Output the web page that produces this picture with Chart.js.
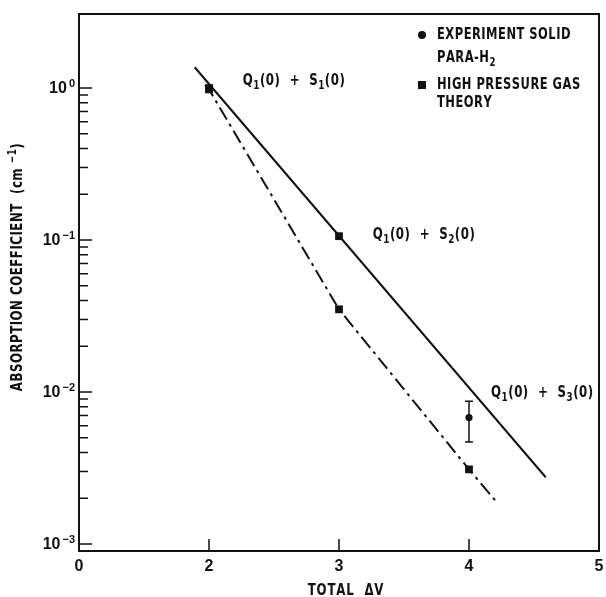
<!DOCTYPE html>
<html>
<head>
<meta charset="utf-8">
<script src="https://cdn.jsdelivr.net/npm/chart.js@4.4.0/dist/chart.umd.min.js"></script>
<style>
  html, body { margin: 0; padding: 0; background: #fff; }
</style>
</head>
<body>
<canvas id="chart" width="606" height="597"></canvas>
<script>
// The original x axis is broken: position 1 carries the label "0"
const xTickValues = [1, 2, 3, 4, 5];
const xTickLabels = ['0', '2', '3', '4', '5'];
const xInnerTicks = [2, 3, 4];
const yDecades = [1, 0.1, 0.01, 0.001];
const yExponents = ['0', '\u22121', '\u22122', '\u22123'];

// Experiment, solid para-H2
const expX = [2, 3, 4];
const expY = [1.0, 0.106, 0.0068];
const expStyle = ['rect', 'rect', 'circle'];
const expErrLow = [null, null, 0.0047];
const expErrHigh = [null, null, 0.0087];

// High pressure gas theory
const theoryX = [2, 3, 4];
const theoryY = [0.98, 0.035, 0.0031];

// Drawn lines
const solidX = [1.89, 4.59];
const solidY = [1.37, 0.00275];
const dashX = [1.97, 2, 3, 4, 4.21];
const dashY = [1.05, 0.98, 0.035, 0.0031, 0.0019];

// Transition labels (x, y in data units)
const transLabels = ['Q_1(0)  +  S_1(0)', 'Q_1(0)  +  S_2(0)', 'Q_1(0)  +  S_3(0)'];
const transX = [2.26, 3.26, 4.17];
const transY = [1.11, 0.108, 0.00985];

const TEXT_FONT = '"Liberation Sans Narrow", "DejaVu Sans Condensed", sans-serif';
const NUM_FONT = '"Liberation Sans", Arial, sans-serif';

const zip = (xs, ys) => xs.map((x, i) => ({ x: x, y: ys[i] }));

// draws a string where _c is a subscript char and ^c a superscript char,
// squeezed horizontally by sx to get the condensed look of the original
function drawRich(ctx, str, x, y, size, family, spacing, sx, measureOnly) {
  const parts = [];
  for (let i = 0; i < str.length; i++) {
    const c = str[i];
    if ((c === '_' || c === '^') && i + 1 < str.length) {
      parts.push({ t: str[i + 1], mode: c });
      i++;
    } else {
      parts.push({ t: c, mode: '' });
    }
  }
  ctx.save();
  ctx.translate(x, y);
  ctx.scale(sx, 1);
  ctx.textBaseline = 'middle';
  ctx.textAlign = 'left';
  let cx = 0;
  parts.forEach(p => {
    const s = p.mode ? size * 0.75 : size;
    ctx.font = 'bold ' + s + 'px ' + family;
    const dy = p.mode === '_' ? size * 0.3 : (p.mode === '^' ? -size * 0.35 : 0);
    if (!measureOnly) ctx.fillText(p.t, cx, dy);
    cx += ctx.measureText(p.t).width + spacing;
  });
  ctx.restore();
  return cx * sx;
}

const decorPlugin = {
  id: 'decor',
  afterDatasetsDraw(chart) {
    const ctx = chart.ctx;
    const xs = chart.scales.x;
    const ys = chart.scales.y;
    // error bars
    ctx.save();
    ctx.strokeStyle = '#111';
    ctx.lineWidth = 1.5;
    expX.forEach((xv, i) => {
      if (expErrLow[i] == null) return;
      const px = xs.getPixelForValue(xv);
      const top = ys.getPixelForValue(expErrHigh[i]);
      const bot = ys.getPixelForValue(expErrLow[i]);
      ctx.beginPath();
      ctx.moveTo(px, top); ctx.lineTo(px, bot);
      ctx.moveTo(px - 4, top); ctx.lineTo(px + 4, top);
      ctx.moveTo(px - 4, bot); ctx.lineTo(px + 4, bot);
      ctx.stroke();
    });
    ctx.restore();
  },
  afterDraw(chart) {
    const ctx = chart.ctx;
    const area = chart.chartArea;
    const xs = chart.scales.x;
    const ys = chart.scales.y;
    ctx.save();
    ctx.fillStyle = '#111';
    ctx.strokeStyle = '#111';

    // frame
    ctx.lineWidth = 2;
    ctx.strokeRect(area.left, area.top, area.right - area.left, area.bottom - area.top);

    // y ticks, pointing inwards
    ctx.lineWidth = 1.5;
    ctx.beginPath();
    yDecades.forEach(d => {
      const py = ys.getPixelForValue(d);
      ctx.moveTo(area.left, py); ctx.lineTo(area.left + 13, py);
      if (d < 1) {
        for (let m = 2; m <= 9; m++) {
          const my = ys.getPixelForValue(d * m);
          ctx.moveTo(area.left, my); ctx.lineTo(area.left + 9, my);
        }
      }
    });
    xInnerTicks.forEach(v => {
      const px = xs.getPixelForValue(v);
      ctx.moveTo(px, area.bottom); ctx.lineTo(px, area.bottom - 12);
    });
    ctx.stroke();

    // y tick labels 10^n
    yDecades.forEach((d, i) => {
      const py = ys.getPixelForValue(d) + 1;
      ctx.font = 'bold 11px ' + NUM_FONT;
      const ew = ctx.measureText(yExponents[i]).width;
      ctx.font = 'bold 16px ' + NUM_FONT;
      ctx.textBaseline = 'middle';
      ctx.textAlign = 'right';
      ctx.fillText('10', area.left - 4 - ew - 2, py);
      ctx.font = 'bold 11px ' + NUM_FONT;
      ctx.textAlign = 'left';
      ctx.fillText(yExponents[i], area.left - 4 - ew, py - 5);
    });

    // x tick labels
    ctx.font = 'bold 16px ' + NUM_FONT;
    ctx.textAlign = 'center';
    ctx.textBaseline = 'middle';
    xTickValues.forEach((v, i) => {
      ctx.fillText(xTickLabels[i], xs.getPixelForValue(v), area.bottom + 16);
    });

    // axis titles
    const xTitle = 'TOTAL  \u0394V';
    const xw = drawRich(ctx, xTitle, 0, 0, 16, TEXT_FONT, 1, 0.82, true);
    drawRich(ctx, xTitle, 346 - xw / 2, area.bottom + 40, 16, TEXT_FONT, 1, 0.82);

    ctx.save();
    ctx.translate(18, 267);
    ctx.rotate(-Math.PI / 2);
    const title = 'ABSORPTION COEFFICIENT  (cm ^\u2212^1)';
    const w = drawRich(ctx, title, 0, 0, 16, TEXT_FONT, 0.6, 0.82, true);
    drawRich(ctx, title, -w / 2, 0, 16, TEXT_FONT, 0.6, 0.82);
    ctx.restore();

    // transition labels
    transLabels.forEach((t, i) => {
      drawRich(ctx, t, xs.getPixelForValue(transX[i]), ys.getPixelForValue(transY[i]), 16, TEXT_FONT, 0.6, 0.82);
    });

    // legend
    ctx.beginPath();
    ctx.arc(422, 35, 4, 0, Math.PI * 2);
    ctx.fill();
    ctx.fillRect(418, 81, 8, 8);
    drawRich(ctx, 'EXPERIMENT SOLID', 437, 35, 16, TEXT_FONT, 0.6, 0.8);
    drawRich(ctx, 'PARA-H_2', 437, 58, 16, TEXT_FONT, 0.6, 0.8);
    drawRich(ctx, 'HIGH PRESSURE GAS', 437, 85, 16, TEXT_FONT, 0.6, 0.8);
    drawRich(ctx, 'THEORY', 437, 103, 16, TEXT_FONT, 0.6, 0.8);

    ctx.restore();
  }
};

new Chart(document.getElementById('chart'), {
  type: 'scatter',
  data: {
    datasets: [
      {
        label: 'line',
        data: zip(solidX, solidY),
        showLine: true,
        borderColor: '#111',
        borderWidth: 2,
        pointRadius: 0
      },
      {
        label: 'theory line',
        data: zip(dashX, dashY),
        showLine: true,
        borderColor: '#111',
        borderWidth: 2,
        borderDash: [14, 5, 3, 5],
        pointRadius: 0
      },
      {
        label: 'EXPERIMENT SOLID PARA-H2',
        data: zip(expX, expY),
        pointStyle: expStyle,
        pointRadius: [5.5, 5.5, 3.6],
        backgroundColor: '#111',
        borderColor: '#111',
        borderWidth: 0
      },
      {
        label: 'HIGH PRESSURE GAS THEORY',
        data: zip(theoryX, theoryY),
        pointStyle: 'rect',
        pointRadius: 5.5,
        backgroundColor: '#111',
        borderColor: '#111',
        borderWidth: 0
      }
    ]
  },
  options: {
    responsive: false,
    animation: false,
    devicePixelRatio: 1,
    layout: { padding: { top: 14, right: 7, left: 0, bottom: 0 } },
    plugins: { legend: { display: false }, tooltip: { enabled: false } },
    scales: {
      x: {
        type: 'linear',
        min: 1,
        max: 5,
        ticks: { display: false },
        grid: { display: false },
        border: { display: false },
        afterFit: s => { s.height = 46; }
      },
      y: {
        type: 'logarithmic',
        min: 0.0009,
        max: 3.07,
        ticks: { display: false },
        grid: { display: false },
        border: { display: false },
        afterFit: s => { s.width = 79; }
      }
    }
  },
  plugins: [decorPlugin]
});
</script>
</body>
</html>
